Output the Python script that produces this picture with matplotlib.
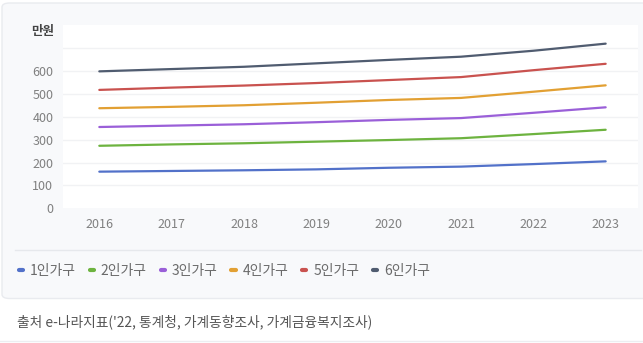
import matplotlib
matplotlib.use("Agg")
import matplotlib.pyplot as plt
from matplotlib.patches import FancyBboxPatch
from matplotlib.lines import Line2D

plt.rcParams['font.family'] = ['Noto Sans CJK KR', 'DejaVu Sans']

years = ['2016', '2017', '2018', '2019', '2020', '2021', '2022', '2023']
series_names = ['1인가구', '2인가구', '3인가구', '4인가구', '5인가구', '6인가구']
hh1 = [160, 163, 166, 170, 177, 182, 193, 205]
hh2 = [273, 279, 284, 291, 298, 306, 324, 343]
hh3 = [355, 361, 367, 376, 386, 394, 417, 441]
hh4 = [437, 443, 450, 461, 473, 482, 509, 537]
hh5 = [517, 527, 536, 547, 560, 573, 603, 631]
hh6 = [598, 608, 618, 633, 648, 662, 688, 719]
y_ticks = [0, 100, 200, 300, 400, 500, 600]
grid_vals = [100, 200, 300, 400, 500, 600, 700]
unit_label = '만원'
source_text = "출처 e-나라지표('22, 통계청, 가계동향조사, 가계금융복지조사)"

colors = ['#5271c9', '#6db33f', '#9a5fd8', '#e2a033', '#c9524f', '#505c70']
all_series = [hh1, hh2, hh3, hh4, hh5, hh6]

W, H = 643, 343
fig = plt.figure(figsize=(W / 100, H / 100), dpi=100)
fig.patch.set_facecolor('white')

def fx(x):
    return x / W

def fy(y):
    return 1 - y / H

# card background
card = FancyBboxPatch((fx(2), fy(298.5)), fx(660) - fx(2), fy(3) - fy(298.5),
                      boxstyle="round,pad=0,rounding_size=0.012",
                      transform=fig.transFigure, facecolor='#f8f9fb',
                      edgecolor='#e9ebef', linewidth=1, zorder=-5)
fig.add_artist(card)
# separator inside card
fig.add_artist(Line2D([fx(15), fx(641)], [fy(249.5), fy(249.5)],
                      transform=fig.transFigure, color='#e6e8ec', linewidth=1, zorder=-4))
# bottom line
fig.add_artist(Line2D([fx(0), fx(643)], [fy(340.5), fy(340.5)],
                      transform=fig.transFigure, color='#eceef1', linewidth=1, zorder=-4))

ax = fig.add_axes([fx(63), fy(208.3), fx(638) - fx(63), fy(25.1) - fy(208.3)])
ax.set_zorder(2)
ax.set_facecolor('white')
x = list(range(len(years)))
for name, vals, c in zip(series_names, all_series, colors):
    ax.plot(x, vals, color=c, linewidth=1.6, label=name, solid_capstyle='round', zorder=3)

for g in grid_vals:
    ax.axhline(g, color='#f1f2f4', linewidth=1, zorder=1)

ax.set_xlim(-0.502, 7.447)
ax.set_ylim(0, 800)
ax.set_xticks(x)
ax.set_xticklabels(years)
ax.set_yticks(y_ticks)
ax.set_yticklabels([str(v) for v in y_ticks])
ax.tick_params(axis='both', length=0, colors='#808080', labelsize=9)
ax.tick_params(axis='y', pad=7)
ax.tick_params(axis='x', pad=7)
for s in ax.spines.values():
    s.set_visible(False)

fig.text(fx(43), fy(32), unit_label, ha='center', va='center', fontsize=9,
         fontweight='bold', color='#444444', zorder=5)

handles = [Line2D([0], [0], color=c, linewidth=3.0, solid_capstyle='round') for c in colors]
leg = fig.legend(handles, series_names, loc='center left', bbox_to_anchor=(fx(18.5), fy(271)),
                 ncol=6, frameon=False, fontsize=10, handlelength=0.3, handletextpad=0.5,
                 columnspacing=1.0, labelcolor='#6a6a6a', borderaxespad=0, borderpad=0)
leg.set_zorder(5)

fig.text(fx(17), fy(322), source_text, ha='left', va='center', fontsize=9.9,
         color='#555555', zorder=5)

fig.savefig('out.png', dpi=100, facecolor=fig.get_facecolor())
